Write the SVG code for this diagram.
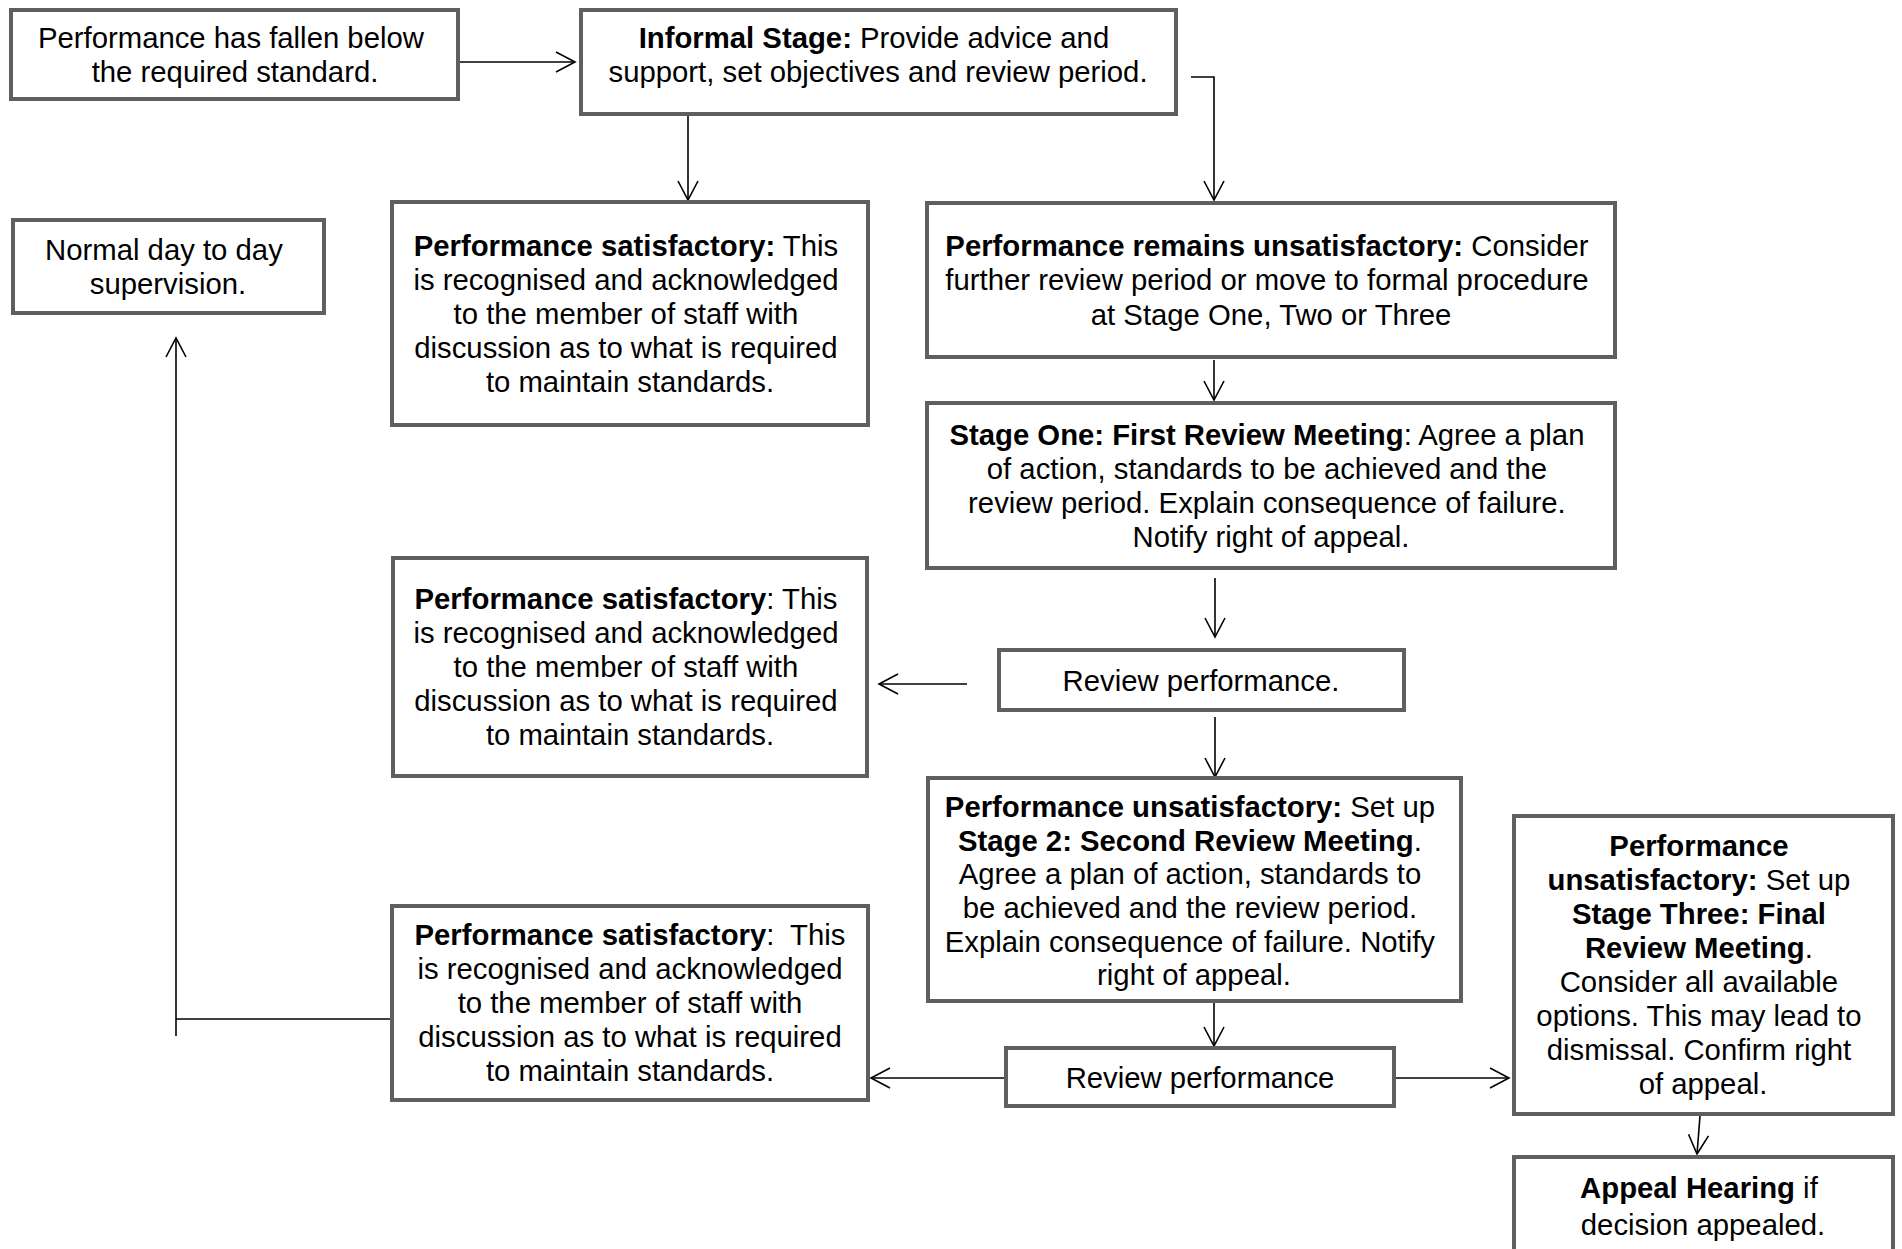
<svg xmlns="http://www.w3.org/2000/svg" width="1902" height="1249" viewBox="0 0 1902 1249">
  <defs>
    <style>
      .box { fill: #ffffff; stroke: #5f5f5f; stroke-width: 4; }
      .txt { font-family: "Liberation Sans", Arial, sans-serif; font-size: 29.3px; fill: #000000; text-anchor: middle; }
      .b { font-weight: bold; }
      .conn { fill: none; stroke: #000000; stroke-width: 1.6; }
    </style>
    <marker id="arrow" markerUnits="userSpaceOnUse" viewBox="-22 -12 24 24" markerWidth="24" markerHeight="24" refX="0" refY="0" orient="auto" overflow="visible">
      <path d="M-19,-10 L0,0 L-19,10" fill="none" stroke="#000000" stroke-width="1.6"/>
    </marker>
  </defs>

  <rect width="1902" height="1249" fill="#ffffff"/>

  <!-- connectors -->
  <g id="connectors" class="conn">
    <path d="M460,62 H575" marker-end="url(#arrow)"/>
    <path d="M688,116 V200" marker-end="url(#arrow)"/>
    <path d="M1191,77 H1214 V200" marker-end="url(#arrow)"/>
    <path d="M1214,360 V400" marker-end="url(#arrow)"/>
    <path d="M1215,578 V637" marker-end="url(#arrow)"/>
    <path d="M967,684 H879" marker-end="url(#arrow)"/>
    <path d="M1215,717 V777" marker-end="url(#arrow)"/>
    <path d="M1214,1003 V1046" marker-end="url(#arrow)"/>
    <path d="M1395,1078 H1509" marker-end="url(#arrow)"/>
    <path d="M1004,1078 H871" marker-end="url(#arrow)"/>
    <path d="M390,1019 H176"/>
    <path d="M176,1036 V338" marker-end="url(#arrow)"/>
    <path d="M1700,1116 L1697,1154" marker-end="url(#arrow)"/>
  </g>

  <!-- start -->
  <g id="start">
    <rect class="box" x="11" y="10" width="447" height="89"/>
    <text class="txt">
      <tspan x="235" y="48">Performance has fallen below</tspan>
      <tspan x="235" y="82">the required standard.</tspan>
    </text>
  </g>

  <g id="informal">
    <rect class="box" x="581" y="10" width="595" height="104"/>
    <text class="txt">
      <tspan x="878" y="48"><tspan class="b">Informal Stage:</tspan> Provide advice and</tspan>
      <tspan x="878" y="82">support, set objectives and review period.</tspan>
    </text>
  </g>

  <g id="normal">
    <rect class="box" x="13" y="220" width="311" height="93"/>
    <text class="txt">
      <tspan x="168" y="260">Normal day to day</tspan>
      <tspan x="168" y="294">supervision.</tspan>
    </text>
  </g>

  <g id="satisfactory1">
    <rect class="box" x="392" y="202" width="476" height="223"/>
    <text class="txt">
      <tspan x="630" y="256"><tspan class="b">Performance satisfactory:</tspan> This</tspan>
      <tspan x="630" y="290">is recognised and acknowledged</tspan>
      <tspan x="630" y="324">to the member of staff with</tspan>
      <tspan x="630" y="358">discussion as to what is required</tspan>
      <tspan x="630" y="392">to maintain standards.</tspan>
    </text>
  </g>

  <g id="remains">
    <rect class="box" x="927" y="203" width="688" height="154"/>
    <text class="txt">
      <tspan x="1271" y="256"><tspan class="b">Performance remains unsatisfactory:</tspan> Consider</tspan>
      <tspan x="1271" y="290">further review period or move to formal procedure</tspan>
      <tspan x="1271" y="325">at Stage One, Two or Three</tspan>
    </text>
  </g>

  <g id="stage-one">
    <rect class="box" x="927" y="403" width="688" height="165"/>
    <text class="txt">
      <tspan x="1271" y="445"><tspan class="b">Stage One: First Review Meeting</tspan>: Agree a plan</tspan>
      <tspan x="1271" y="479">of action, standards to be achieved and the</tspan>
      <tspan x="1271" y="513">review period. Explain consequence of failure.</tspan>
      <tspan x="1271" y="547">Notify right of appeal.</tspan>
    </text>
  </g>

  <g id="review1">
    <rect class="box" x="999" y="650" width="405" height="60"/>
    <text class="txt"><tspan x="1201" y="691">Review performance.</tspan></text>
  </g>

  <g id="satisfactory2">
    <rect class="box" x="393" y="558" width="474" height="218"/>
    <text class="txt">
      <tspan x="630" y="609"><tspan class="b">Performance satisfactory</tspan>: This</tspan>
      <tspan x="630" y="643">is recognised and acknowledged</tspan>
      <tspan x="630" y="677">to the member of staff with</tspan>
      <tspan x="630" y="711">discussion as to what is required</tspan>
      <tspan x="630" y="745">to maintain standards.</tspan>
    </text>
  </g>

  <g id="stage-two">
    <rect class="box" x="928" y="778" width="533" height="223"/>
    <text class="txt">
      <tspan x="1194" y="817"><tspan class="b">Performance unsatisfactory:</tspan> Set up</tspan>
      <tspan x="1194" y="851"><tspan class="b">Stage 2: Second Review Meeting</tspan>.</tspan>
      <tspan x="1194" y="884">Agree a plan of action, standards to</tspan>
      <tspan x="1194" y="918">be achieved and the review period.</tspan>
      <tspan x="1194" y="952">Explain consequence of failure. Notify</tspan>
      <tspan x="1194" y="985">right of appeal.</tspan>
    </text>
  </g>

  <g id="review2">
    <rect class="box" x="1006" y="1048" width="388" height="58"/>
    <text class="txt"><tspan x="1200" y="1088">Review performance</tspan></text>
  </g>

  <g id="satisfactory3">
    <rect class="box" x="392" y="906" width="476" height="194"/>
    <text class="txt" xml:space="preserve"><tspan x="630" y="945"><tspan class="b">Performance satisfactory</tspan>:  This</tspan><tspan x="630" y="979">is recognised and acknowledged</tspan><tspan x="630" y="1013">to the member of staff with</tspan><tspan x="630" y="1047">discussion as to what is required</tspan><tspan x="630" y="1081">to maintain standards.</tspan></text>
  </g>

  <g id="stage-three">
    <rect class="box" x="1514" y="816" width="379" height="298"/>
    <text class="txt">
      <tspan x="1703" y="856" class="b">Performance</tspan>
      <tspan x="1703" y="890"><tspan class="b">unsatisfactory:</tspan> Set up</tspan>
      <tspan x="1703" y="924" class="b">Stage Three: Final</tspan>
      <tspan x="1703" y="958"><tspan class="b">Review Meeting</tspan>.</tspan>
      <tspan x="1703" y="992">Consider all available</tspan>
      <tspan x="1703" y="1026">options. This may lead to</tspan>
      <tspan x="1703" y="1060">dismissal. Confirm right</tspan>
      <tspan x="1703" y="1094">of appeal.</tspan>
    </text>
  </g>

  <g id="appeal">
    <rect class="box" x="1514" y="1157" width="379" height="130"/>
    <text class="txt">
      <tspan x="1703" y="1198"><tspan class="b">Appeal Hearing</tspan> if</tspan>
      <tspan x="1703" y="1235">decision appealed.</tspan>
    </text>
  </g>
</svg>
